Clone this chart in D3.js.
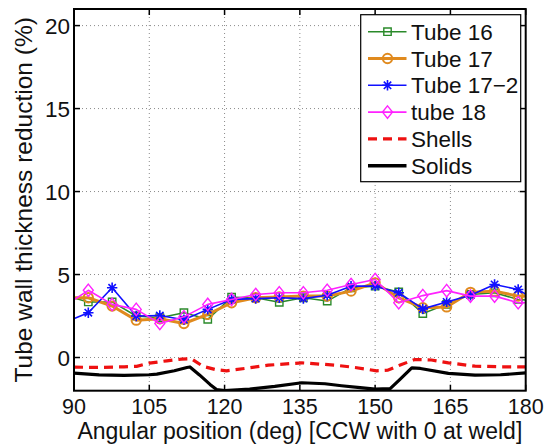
<!DOCTYPE html>
<html>
<head>
<meta charset="utf-8">
<script src="https://cdn.jsdelivr.net/npm/d3@7"></script>
<style>
  html, body { margin: 0; padding: 0; background: #fff; }
  svg { display: block; font-family: "Liberation Sans", Arial, Helvetica, sans-serif; }
</style>
</head>
<body>
<svg id="chart" width="550" height="447"></svg>
<script>
// Measurement angles (deg) for the tube specimens
const angles = [88.1, 92.85, 97.6, 102.4, 107.1, 111.9, 116.65, 121.4, 126.2, 130.9, 135.7,
                140.45, 145.2, 150.0, 154.7, 159.5, 164.25, 169.0, 173.8, 178.5, 183.3];
// Wall thickness reduction (%) per tube
const tube16  = [3.75, 3.35, 3.35, 2.5, 2.4, 2.7, 2.3, 3.63, 3.6, 3.33, 3.6, 3.4, 4.2, 4.3, 3.95, 2.65, 3.2, 3.8, 3.9, 3.5, 3.4];
const tube17  = [3.6, 3.6, 3.1, 2.25, 2.33, 2.05, 2.6, 3.3, 3.6, 3.65, 3.7, 3.7, 4.0, 4.5, 3.6, 3.0, 3.05, 3.93, 4.0, 3.7, 3.7];
const tube172 = [2.1, 2.7, 4.2, 2.5, 2.53, 2.28, 2.9, 3.5, 3.55, 3.6, 3.55, 3.75, 4.3, 4.3, 3.9, 2.93, 3.35, 3.75, 4.4, 4.1, 3.2];
const tube18  = [3.1, 4.05, 3.2, 2.9, 2.05, 2.45, 3.2, 3.5, 3.8, 3.9, 3.9, 4.05, 4.4, 4.7, 3.3, 3.73, 4.03, 3.7, 3.7, 3.3, 3.3];

// Simulation results
const shellAngles = [90, 95, 100, 102.5, 105, 108.5, 111.4, 113.4, 115.7, 118.4, 120.4, 125, 128.7, 135.4, 142, 146, 150.3, 152.5, 155, 157.9, 161.2, 164.6, 169.9, 175, 180];
const shells      = [-0.58, -0.6, -0.56, -0.53, -0.34, -0.2, -0.1, -0.08, -0.53, -0.74, -0.8, -0.62, -0.46, -0.32, -0.46, -0.6, -0.8, -0.77, -0.45, -0.12, -0.15, -0.32, -0.52, -0.56, -0.56];
const solidAngles = [90, 95, 100, 105, 106.5, 110, 112.5, 113.1, 115, 117.1, 118.4, 120, 125, 130, 135.4, 140, 143.3, 147, 150, 153, 155, 157.3, 159, 164.6, 169.9, 175, 180];
const solids      = [-0.94, -1.05, -1.08, -1.04, -1.0, -0.8, -0.6, -0.57, -1.05, -1.62, -1.93, -2.0, -1.9, -1.74, -1.52, -1.58, -1.7, -1.82, -1.9, -1.88, -1.3, -0.62, -0.66, -0.96, -1.06, -1.04, -0.93];

const xTicks = [90, 105, 120, 135, 150, 165, 180];
const yTicks = [0, 5, 10, 15, 20];
const seriesNames = ["Tube 16", "Tube 17", "Tube 17\u22122", "tube 18", "Shells", "Solids"];

const svg = d3.select("#chart");
const L = 74, R = 525.7, T = 9, B = 390.7;
const x = d3.scaleLinear().domain([90, 180]).range([L, R]);
const y = d3.scaleLinear().domain([-2, 21]).range([B, T]);

svg.append("defs").append("clipPath").attr("id", "plotclip")
  .append("rect").attr("x", L).attr("y", T).attr("width", R - L).attr("height", B - T);

// grid
const grid = svg.append("g").attr("stroke", "#8a8a8a").attr("stroke-width", 1).attr("stroke-dasharray", "1,3");
xTicks.slice(1, -1).forEach(v => grid.append("line").attr("x1", x(v)).attr("x2", x(v)).attr("y1", T).attr("y2", B));
yTicks.forEach(v => grid.append("line").attr("x1", L).attr("x2", R).attr("y1", y(v)).attr("y2", y(v)));

// marker paths centred on the origin
const markerPath = {
  square: "M-3.7,-3.7H3.7V3.7H-3.7Z",
  circle: d3.symbol(d3.symbolCircle, 68)(),
  star: "M0,-5.2V5.2M-5.2,0H5.2M-3.7,-3.7L3.7,3.7M-3.7,3.7L3.7,-3.7",
  diamond: "M0,-6.2L5,0L0,6.2L-5,0Z"
};

const series = [
  { name: seriesNames[0], values: tube16,  color: "#2a8a2a", width: 1.5, marker: "square",  mw: 1.4 },
  { name: seriesNames[1], values: tube17,  color: "#e08a1e", width: 3,   marker: "circle",  mw: 2 },
  { name: seriesNames[2], values: tube172, color: "#1010ff", width: 1.6, marker: "star",    mw: 1.6 },
  { name: seriesNames[3], values: tube18,  color: "#ff22ff", width: 1.6, marker: "diamond", mw: 1.4 }
];

const plot = svg.append("g").attr("clip-path", "url(#plotclip)");
const line = d3.line().x(d => x(d[0])).y(d => y(d[1]));

series.forEach(s => {
  const pts = angles.map((a, i) => [a, s.values[i]]);
  plot.append("path").attr("d", line(pts)).attr("fill", "none")
    .attr("stroke", s.color).attr("stroke-width", s.width).attr("stroke-linejoin", "round");
  plot.selectAll(null).data(pts.filter(p => p[0] >= 90 && p[0] <= 180)).enter().append("path")
    .attr("d", markerPath[s.marker])
    .attr("transform", p => `translate(${x(p[0])},${y(p[1])})`)
    .attr("fill", "none").attr("stroke", s.color).attr("stroke-width", s.mw);
});

plot.append("path").attr("d", line(shellAngles.map((a, i) => [a, shells[i]])))
  .attr("fill", "none").attr("stroke", "#ee1111").attr("stroke-width", 3.2).attr("stroke-dasharray", "9,6");
plot.append("path").attr("d", line(solidAngles.map((a, i) => [a, solids[i]])))
  .attr("fill", "none").attr("stroke", "#000").attr("stroke-width", 3.2).attr("stroke-linejoin", "round");

// axes box and inward ticks
const axes = svg.append("g").attr("stroke", "#000").attr("stroke-width", 1.5);
xTicks.forEach(v => {
  axes.append("line").attr("x1", x(v)).attr("x2", x(v)).attr("y1", B).attr("y2", B - 6);
  axes.append("line").attr("x1", x(v)).attr("x2", x(v)).attr("y1", T).attr("y2", T + 6);
});
yTicks.forEach(v => {
  axes.append("line").attr("x1", L).attr("x2", L + 6).attr("y1", y(v)).attr("y2", y(v));
  axes.append("line").attr("x1", R).attr("x2", R - 6).attr("y1", y(v)).attr("y2", y(v));
});
svg.append("rect").attr("x", L).attr("y", T).attr("width", R - L).attr("height", B - T)
  .attr("fill", "none").attr("stroke", "#000").attr("stroke-width", 2);

// tick labels
svg.append("g").selectAll("text").data(xTicks).enter().append("text")
  .attr("x", d => x(d)).attr("y", 414).attr("text-anchor", "middle")
  .attr("font-size", 21.5).attr("fill", "#111").text(d => d);
svg.append("g").selectAll("text").data(yTicks).enter().append("text")
  .attr("x", L - 4).attr("y", d => y(d)).attr("dy", "0.36em").attr("text-anchor", "end")
  .attr("font-size", 22.5).attr("fill", "#111").text(d => d);

// axis titles
svg.append("text").attr("x", (L + R) / 2).attr("y", 439).attr("text-anchor", "middle")
  .attr("font-size", 23).attr("fill", "#111").text("Angular position (deg) [CCW with 0 at weld]");
svg.append("text").attr("transform", `translate(32,${(T + B) / 2}) rotate(-90)`)
  .attr("text-anchor", "middle").attr("font-size", 24.5).attr("fill", "#111")
  .text("Tube wall thickness reduction (%)");

// legend
const lg = svg.append("g");
lg.append("rect").attr("x", 360.7).attr("y", 14.7).attr("width", 160).attr("height", 167)
  .attr("fill", "#fff").attr("stroke", "#000").attr("stroke-width", 1.2);
const legendItems = [
  ...series.map(s => ({ name: s.name, color: s.color, width: s.width, marker: s.marker, mw: s.mw })),
  { name: seriesNames[4], color: "#ee1111", width: 3.2, dash: "9,6" },
  { name: seriesNames[5], color: "#000", width: 3.5 }
];
legendItems.forEach((it, i) => {
  const cy = 31.7 + i * 26.8;
  lg.append("line").attr("x1", 368).attr("x2", 406.5).attr("y1", cy).attr("y2", cy)
    .attr("stroke", it.color).attr("stroke-width", it.width).attr("stroke-dasharray", it.dash || null);
  if (it.marker) {
    lg.append("path").attr("d", markerPath[it.marker]).attr("transform", `translate(387.5,${cy})`)
      .attr("fill", "none").attr("stroke", it.color).attr("stroke-width", it.mw);
  }
  lg.append("text").attr("x", 411).attr("y", cy).attr("dy", "0.36em")
    .attr("font-size", 22.5).attr("fill", "#111").text(it.name);
});
</script>
</body>
</html>
